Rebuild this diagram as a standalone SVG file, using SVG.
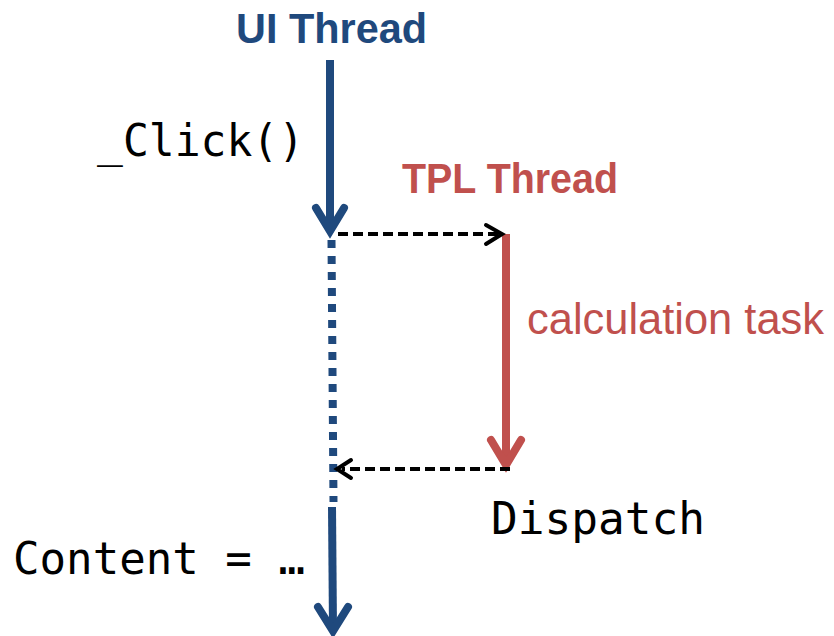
<svg xmlns="http://www.w3.org/2000/svg" width="834" height="636" viewBox="0 0 834 636">
  <style>
    .ui { stroke: #1F497D; stroke-width: 8; fill: none; }
    .tpl { stroke: #C0504D; stroke-width: 8; fill: none; }
    .head { stroke-linecap: round; stroke-linejoin: miter; stroke-miterlimit: 10; }
    .msg { stroke: #000; stroke-width: 4; fill: none; stroke-dasharray: 10 5; }
    .msghead { stroke: #000; stroke-width: 4; fill: none; stroke-linecap: round; stroke-linejoin: miter; }
    .title { font-family: "Liberation Sans", Arial, sans-serif; font-weight: bold; font-size: 42px; }
    .code { font-family: "DejaVu Sans Mono", "Liberation Mono", monospace; font-size: 44px; fill: #000; }
  </style>

  <!-- thread headers and labels -->
  <g id="ui-thread-label">
    <text class="title" x="236" y="43" fill="#1F497D" textLength="191" lengthAdjust="spacingAndGlyphs">UI Thread</text>
  </g>
  <g id="tpl-thread-label">
    <text class="title" x="402" y="193" fill="#C0504D" textLength="216" lengthAdjust="spacingAndGlyphs">TPL Thread</text>
  </g>
  <g id="click-label">
    <text class="code" x="97" y="156" textLength="207" lengthAdjust="spacingAndGlyphs">_Click()</text>
  </g>
  <g id="calc-label">
    <text x="527" y="334" font-family="'Liberation Sans', Arial, sans-serif" font-size="44" fill="#C0504D" textLength="297" lengthAdjust="spacingAndGlyphs">calculation task</text>
  </g>
  <g id="dispatch-label">
    <text class="code" x="491" y="534" textLength="214" lengthAdjust="spacingAndGlyphs">Dispatch</text>
  </g>
  <g id="content-label">
    <text class="code" x="13" y="574" textLength="292" lengthAdjust="spacingAndGlyphs">Content = …</text>
  </g>

  <!-- timelines -->
  <g id="ui-timeline">
    <line class="ui" x1="330" y1="60" x2="330" y2="230"/>
    <path class="ui head" d="M316 208 L330 231 L344 208"/>
    <line class="ui" x1="331.5" y1="240" x2="333.5" y2="502" stroke-dasharray="8 8"/>
    <line class="ui" x1="332" y1="507" x2="333" y2="630"/>
    <path class="ui head" d="M318 607 L333 631 L348 607"/>
  </g>
  <g id="tpl-timeline">
    <line class="tpl" x1="506" y1="234" x2="506" y2="464"/>
    <path class="tpl head" d="M491 440 L506 465 L521 440"/>
  </g>

  <!-- hand-off connectors -->
  <g id="connectors">
    <line class="msg" x1="338" y1="234" x2="500" y2="234"/>
    <path class="msghead" d="M486 225 L502 234 L486 244"/>
    <line class="msg" x1="510" y1="469" x2="342" y2="469"/>
    <path class="msghead" d="M351 460 L337 469 L351 478"/>
  </g>
</svg>
